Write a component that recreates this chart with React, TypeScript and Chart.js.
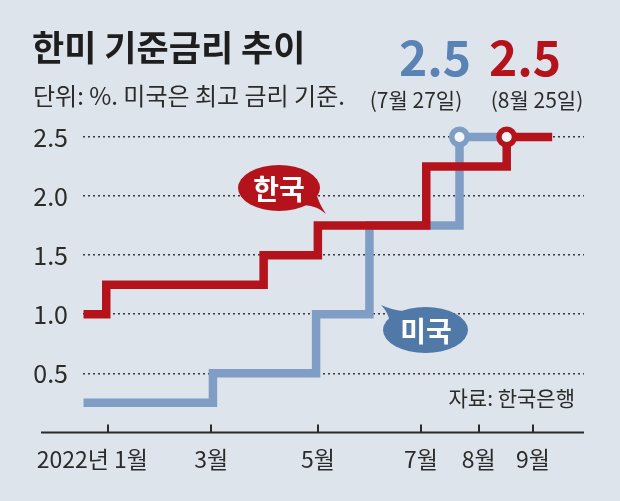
import React, { useEffect, useRef } from 'react';
import { Chart, registerables } from 'chart.js';

Chart.register(...registerables);

// ---- data ----
const MONTH_DAYS = [0, 59, 120, 179, 212, 243];
const MONTH_LABELS = ['2022년 1월', '3월', '5월', '7월', '8월', '9월'];
const Y_TICKS = [0.5, 1.0, 1.5, 2.0, 2.5];

const KOREA_DAYS = [-14, -1, 89, 120, 182, 228, 254];
const KOREA_RATES = [1.0, 1.25, 1.5, 1.75, 2.25, 2.5, 2.5];
const US_DAYS = [-14, 60, 119, 149.5, 201, 228];
const US_RATES = [0.25, 0.5, 1.0, 1.75, 2.5, 2.5];

const US_MARK_DAYS = [201];
const US_MARK_RATES = [2.5];
const KOREA_MARK_DAYS = [228];
const KOREA_MARK_RATES = [2.5];

const TITLE = '한미 기준금리 추이';
const SUBTITLE = '단위: %. 미국은 최고 금리 기준.';
const US_LATEST = '2.5';
const US_LATEST_DATE = '(7월 27일)';
const KOREA_LATEST = '2.5';
const KOREA_LATEST_DATE = '(8월 25일)';
const KOREA_NAME = '한국';
const US_NAME = '미국';
const SOURCE = '자료: 한국은행';

// ---- styles ----
const BG = '#dee4eb';
const RED = '#b5131c';
const BLUE_LINE = '#809ec5';
const BLUE_BUBBLE = '#5079a8';
const BLUE_TEXT = '#5a83b5';
const INK = '#2b2b2b';
const FONT = "'Noto Sans CJK KR', sans-serif";
const KFONT = "'Noto Sans CJK KR', sans-serif";

const toPoints = (xs: number[], ys: number[]) => xs.map((x, i) => ({ x, y: ys[i] }));

const overlay = {
  id: 'overlay',
  beforeDatasetsDraw(chart: any) {
    const { ctx, scales } = chart;
    const x = scales.x;
    const y0 = scales.y.getPixelForValue(0);
    ctx.save();
    ctx.strokeStyle = INK;
    ctx.lineWidth = 2;
    ctx.beginPath();
    ctx.moveTo(41, y0);
    ctx.lineTo(chart.chartArea.right, y0);
    ctx.stroke();
    MONTH_DAYS.forEach((d) => {
      const px = Math.round(x.getPixelForValue(d));
      ctx.beginPath();
      ctx.moveTo(px, y0);
      ctx.lineTo(px, y0 - 8);
      ctx.stroke();
    });
    ctx.fillStyle = INK;
    ctx.font = `23px ${FONT}`;
    ctx.textBaseline = 'middle';
    MONTH_DAYS.forEach((d, i) => {
      const px = x.getPixelForValue(d);
      if (i === 0) {
        ctx.textAlign = 'right';
        ctx.fillText(MONTH_LABELS[i], px + 40, y0 + 27);
      } else {
        ctx.textAlign = 'center';
        ctx.fillText(MONTH_LABELS[i], px, y0 + 27);
      }
    });
    ctx.restore();
  },
  afterDatasetsDraw(chart: any) {
    const { ctx } = chart;
    ctx.save();
    // Korea bubble
    ctx.fillStyle = RED;
    ctx.beginPath();
    ctx.ellipse(279, 188, 41, 23, 0, 0, Math.PI * 2);
    ctx.fill();
    ctx.beginPath();
    ctx.moveTo(304, 205);
    ctx.quadraticCurveTo(318, 206, 326, 214);
    ctx.quadraticCurveTo(318, 202, 316, 192);
    ctx.closePath();
    ctx.fill();
    // US bubble
    ctx.fillStyle = BLUE_BUBBLE;
    ctx.beginPath();
    ctx.ellipse(425.5, 330, 42.5, 23, 0, 0, Math.PI * 2);
    ctx.fill();
    ctx.beginPath();
    ctx.moveTo(390, 322);
    ctx.quadraticCurveTo(388, 312, 381, 305);
    ctx.quadraticCurveTo(392, 310, 403, 311);
    ctx.closePath();
    ctx.fill();
    ctx.fillStyle = '#ffffff';
    ctx.font = `bold 28px ${KFONT}`;
    ctx.textAlign = 'center';
    ctx.textBaseline = 'middle';
    ctx.fillText(KOREA_NAME, 279, 189);
    ctx.fillText(US_NAME, 426, 331);
    ctx.restore();
  },
  afterDraw(chart: any) {
    const { ctx } = chart;
    ctx.save();
    ctx.textBaseline = 'middle';
    ctx.fillStyle = '#1e1e1e';
    ctx.textAlign = 'left';
    ctx.font = `bold 35px ${KFONT}`;
    ctx.fillText(TITLE, 32, 48);
    ctx.fillStyle = INK;
    ctx.font = `24px ${KFONT}`;
    ctx.fillText(SUBTITLE, 33, 96);

    ctx.textAlign = 'center';
    ctx.font = `bold 48px ${FONT}`;
    ctx.fillStyle = BLUE_TEXT;
    ctx.fillText(US_LATEST, 435, 58);
    ctx.fillStyle = RED;
    ctx.fillText(KOREA_LATEST, 525, 58);
    ctx.fillStyle = INK;
    ctx.font = `21px ${FONT}`;
    ctx.fillText(US_LATEST_DATE, 416, 100);
    ctx.fillText(KOREA_LATEST_DATE, 537, 100);

    ctx.textAlign = 'right';
    ctx.font = `21px ${FONT}`;
    ctx.fillText(SOURCE, 575, 398);
    ctx.restore();
  },
};

export default function App() {
  const ref = useRef<HTMLCanvasElement | null>(null);
  useEffect(() => {
    document.body.style.margin = '0';
    const canvas = ref.current;
    if (!canvas) return;
    const chart = new Chart(canvas, {
      type: 'line',
      data: {
        datasets: [
          {
            data: toPoints(KOREA_MARK_DAYS, KOREA_MARK_RATES),
            showLine: false,
            pointRadius: 7.75,
            pointBorderWidth: 5.5,
            pointBackgroundColor: '#f3f5f8',
            pointBorderColor: RED,
            clip: false,
            order: 0,
          } as any,
          {
            data: toPoints(US_MARK_DAYS, US_MARK_RATES),
            showLine: false,
            pointRadius: 7.75,
            pointBorderWidth: 5.5,
            pointBackgroundColor: '#f3f5f8',
            pointBorderColor: BLUE_LINE,
            clip: false,
            order: 1,
          } as any,
          {
            data: toPoints(KOREA_DAYS, KOREA_RATES),
            borderColor: RED,
            borderWidth: 8.5,
            stepped: 'before',
            pointRadius: 0,
            fill: false,
            borderJoinStyle: 'miter',
            borderCapStyle: 'butt',
            clip: false,
            order: 2,
          } as any,
          {
            data: toPoints(US_DAYS, US_RATES),
            borderColor: BLUE_LINE,
            borderWidth: 8.5,
            stepped: 'before',
            pointRadius: 0,
            fill: false,
            borderJoinStyle: 'miter',
            borderCapStyle: 'butt',
            clip: false,
            order: 3,
          } as any,
        ],
      },
      options: {
        responsive: false,
        animation: false,
        events: [],
        layout: { padding: { left: 0, right: 36, top: 137, bottom: 68.6 } },
        plugins: {
          legend: { display: false },
          tooltip: { enabled: false },
          title: { display: false },
        },
        scales: {
          x: {
            type: 'linear',
            display: false,
            min: -14.3,
            max: 272.2,
          },
          y: {
            type: 'linear',
            min: 0,
            max: 2.5,
            afterFit: (scale: any) => {
              scale.width = 83;
            },
            ticks: {
              stepSize: 0.5,
              padding: 15,
              color: INK,
              font: { family: FONT, size: 25 },
              callback: (v: any) => (Y_TICKS.includes(Number(v)) ? Number(v).toFixed(1) : ''),
            },
            grid: {
              drawTicks: false,
              lineWidth: 1.5,
              color: (c: any) => (c.tick && c.tick.value === 0 ? 'rgba(0,0,0,0)' : '#3a3a3a'),
            },
            border: { display: false, dash: [2, 3] },
          },
        },
      } as any,
      plugins: [overlay],
    });
    return () => chart.destroy();
  }, []);
  return (
    <div style={{ width: 620, height: 501, background: BG, position: 'relative' }}>
      <canvas ref={ref} width={620} height={501} style={{ display: 'block', width: 620, height: 501 }} />
    </div>
  );
}
